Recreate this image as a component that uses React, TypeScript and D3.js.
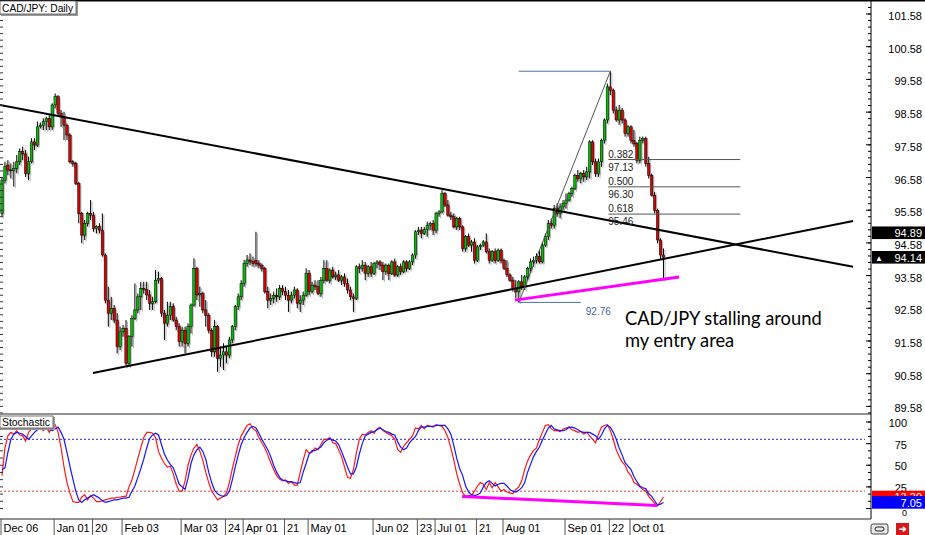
import React from "react";
import * as d3 from "d3";

// ---------- DATA ----------
// daily candles [open, high, low, close], bar 0 = Dec 06
const candles: [number, number, number, number][] = [
  [95.48, 96.60, 95.38, 96.50], [96.50, 97.06, 96.40, 96.91], [96.96, 97.11, 96.65, 96.81], [96.81, 97.01, 96.55, 96.79],
  [96.79, 97.06, 96.30, 96.86], [96.86, 97.27, 96.71, 97.06], [97.06, 97.47, 96.96, 97.37], [97.37, 97.52, 97.11, 97.30],
  [97.30, 97.42, 96.60, 96.71], [96.71, 97.22, 96.50, 97.06], [97.06, 97.78, 97.01, 97.67], [97.67, 97.78, 97.42, 97.57],
  [97.57, 98.29, 97.52, 98.13], [98.13, 98.26, 98.08, 98.18], [98.18, 98.39, 98.03, 98.29], [98.29, 98.44, 98.03, 98.39],
  [98.39, 98.49, 98.03, 98.13], [98.13, 98.85, 98.03, 98.80], [98.80, 99.15, 98.69, 99.05], [99.05, 99.10, 98.44, 98.54],
  [98.54, 98.64, 98.13, 98.44], [98.44, 98.59, 97.73, 98.18], [98.18, 98.23, 97.73, 97.88], [97.88, 97.93, 97.01, 97.06],
  [97.06, 97.11, 96.91, 97.01], [97.01, 97.06, 96.35, 96.40], [96.40, 96.45, 95.18, 95.48], [95.48, 95.53, 94.57, 94.82],
  [94.82, 95.28, 94.67, 95.18], [95.18, 95.53, 95.08, 95.48], [95.48, 95.89, 95.28, 95.43], [95.43, 95.53, 94.92, 95.02],
  [95.02, 95.12, 94.87, 95.08], [95.08, 95.18, 94.87, 94.97], [94.97, 95.48, 94.16, 94.21], [94.21, 94.26, 92.73, 92.83],
  [92.83, 93.24, 92.02, 92.43], [92.43, 92.93, 92.22, 92.58], [92.58, 92.68, 92.12, 92.22], [92.22, 92.43, 91.20, 91.41],
  [91.41, 92.02, 91.30, 91.86], [91.86, 92.07, 91.71, 91.97], [91.97, 92.22, 90.79, 90.90], [90.90, 91.76, 90.79, 91.71],
  [91.71, 92.37, 91.41, 92.27], [92.27, 93.34, 92.22, 92.53], [92.53, 93.03, 92.43, 92.93], [92.93, 93.39, 92.53, 93.19],
  [93.19, 93.39, 93.03, 93.16], [93.16, 93.39, 92.83, 92.99], [92.99, 93.14, 92.53, 92.73], [92.73, 92.93, 92.53, 92.78],
  [92.78, 93.75, 92.73, 93.44], [93.44, 93.70, 93.34, 93.49], [93.49, 93.54, 92.32, 92.43], [92.43, 92.53, 91.61, 92.12],
  [92.12, 92.78, 92.02, 92.37], [92.37, 92.78, 92.22, 92.63], [92.63, 92.73, 92.17, 92.22], [92.22, 92.32, 91.91, 92.02],
  [92.02, 92.12, 91.41, 91.56], [91.56, 92.02, 91.41, 91.91], [91.91, 92.02, 91.20, 91.51], [91.51, 92.12, 91.41, 92.02],
  [92.02, 92.73, 91.81, 92.68], [92.68, 94.11, 92.63, 93.80], [93.80, 93.85, 92.83, 92.99], [92.99, 93.24, 92.63, 93.03],
  [93.03, 93.09, 92.43, 92.53], [92.53, 92.83, 92.02, 92.37], [92.37, 92.43, 91.81, 91.91], [91.91, 91.97, 91.10, 91.25],
  [91.25, 92.22, 91.10, 92.02], [92.02, 92.07, 90.64, 91.05], [91.05, 91.41, 90.79, 91.15], [91.15, 91.51, 90.69, 91.25],
  [91.25, 91.41, 90.90, 91.15], [91.15, 91.71, 91.05, 91.61], [91.61, 92.07, 91.51, 92.02], [92.02, 92.68, 91.91, 92.63],
  [92.63, 93.03, 92.53, 92.93], [92.93, 93.44, 92.83, 93.34], [93.34, 94.06, 93.24, 93.95], [93.95, 94.21, 93.85, 94.06],
  [94.06, 94.26, 93.90, 94.01], [94.01, 94.16, 93.85, 93.95], [94.05, 94.92, 93.85, 93.95], [93.95, 94.05, 93.80, 93.90],
  [93.90, 93.95, 93.70, 93.80], [93.80, 93.85, 93.03, 93.09], [93.09, 93.24, 92.58, 92.83], [92.83, 93.03, 92.68, 92.88],
  [92.88, 93.09, 92.73, 92.98], [92.98, 93.19, 92.78, 92.93], [92.93, 93.29, 92.83, 93.19], [93.19, 93.29, 92.98, 93.09],
  [93.09, 93.24, 92.83, 92.98], [92.98, 93.14, 92.47, 92.83], [92.83, 93.09, 92.73, 92.98], [92.98, 93.24, 92.88, 93.14],
  [93.14, 93.19, 92.58, 92.73], [92.73, 92.98, 92.47, 92.83], [92.83, 93.09, 92.68, 92.98], [92.98, 93.80, 92.93, 93.65],
  [93.65, 93.75, 92.98, 93.09], [93.09, 93.39, 93.03, 93.29], [93.29, 93.44, 93.14, 93.24], [93.24, 93.44, 92.98, 93.03],
  [93.03, 93.54, 92.93, 93.44], [93.44, 94.05, 93.34, 93.80], [93.80, 94.05, 93.39, 93.44], [93.44, 93.80, 93.34, 93.75],
  [93.75, 93.85, 93.49, 93.54], [93.54, 93.70, 93.44, 93.60], [93.60, 93.75, 93.39, 93.44], [93.44, 93.60, 93.29, 93.54],
  [93.54, 93.65, 93.24, 93.34], [93.34, 93.49, 93.03, 93.14], [93.14, 93.24, 92.83, 92.93], [92.93, 93.03, 92.47, 92.88],
  [92.88, 93.90, 92.83, 93.85], [93.85, 93.95, 93.65, 93.80], [93.80, 94.05, 93.70, 93.90], [93.90, 94.00, 93.44, 93.65],
  [93.65, 93.90, 93.54, 93.85], [93.85, 94.00, 93.54, 93.65], [93.65, 94.00, 93.60, 93.95], [93.95, 94.05, 93.80, 94.00],
  [94.00, 94.05, 93.75, 93.90], [93.90, 94.00, 93.44, 93.70], [93.70, 93.95, 93.60, 93.90], [93.90, 93.95, 93.44, 93.65],
  [93.65, 94.05, 93.60, 94.00], [94.00, 94.10, 93.54, 93.60], [93.60, 93.90, 93.54, 93.85], [93.85, 93.95, 93.60, 93.70],
  [93.70, 94.05, 93.65, 94.00], [94.00, 94.05, 93.70, 93.80], [93.80, 94.05, 93.75, 94.00], [94.00, 94.26, 93.90, 94.21],
  [94.21, 94.97, 94.10, 94.92], [94.92, 95.07, 94.82, 94.97], [94.97, 95.07, 94.72, 94.87], [94.87, 95.07, 94.82, 94.99],
  [94.99, 95.23, 94.77, 95.12], [95.12, 95.23, 94.97, 95.17], [95.17, 95.28, 94.82, 94.97], [94.97, 95.53, 94.87, 95.48],
  [95.48, 95.58, 95.38, 95.53], [95.53, 96.19, 95.48, 96.09], [96.09, 96.14, 95.68, 95.74], [95.74, 95.89, 95.38, 95.43],
  [95.43, 95.53, 95.28, 95.38], [95.38, 95.48, 95.02, 95.07], [95.07, 95.38, 94.97, 95.33], [95.33, 95.38, 94.97, 95.07],
  [95.07, 95.12, 94.31, 94.41], [94.41, 94.82, 94.31, 94.77], [94.77, 94.87, 94.46, 94.51], [94.51, 94.67, 94.31, 94.61],
  [94.61, 94.72, 93.95, 94.05], [94.05, 94.51, 94.00, 94.46], [94.46, 94.56, 94.36, 94.51], [94.51, 94.67, 94.46, 94.61],
  [94.61, 94.87, 94.26, 94.31], [94.31, 94.41, 93.95, 94.05], [94.05, 94.36, 94.00, 94.31], [94.31, 94.41, 93.95, 94.05],
  [94.05, 94.41, 94.00, 94.36], [94.36, 94.41, 93.95, 94.05], [94.05, 94.10, 93.75, 93.80], [93.80, 94.05, 93.54, 93.60],
  [93.60, 93.65, 93.39, 93.44], [93.44, 93.54, 93.09, 93.19], [93.19, 93.44, 92.88, 93.09], [93.09, 93.44, 92.76, 93.39],
  [93.39, 93.60, 93.14, 93.24], [93.24, 93.60, 93.14, 93.54], [93.54, 93.85, 93.44, 93.80], [93.80, 94.10, 93.70, 94.00],
  [94.00, 94.16, 93.85, 94.05], [94.05, 94.26, 93.95, 94.16], [94.16, 94.36, 93.95, 94.00], [94.00, 94.61, 93.95, 94.51],
  [94.51, 94.87, 94.46, 94.77], [94.77, 95.28, 94.67, 95.17], [95.17, 95.33, 95.02, 95.12], [95.12, 95.74, 95.02, 95.63],
  [95.63, 95.79, 95.38, 95.48], [95.48, 95.79, 95.33, 95.68], [95.68, 95.89, 95.58, 95.79], [95.79, 96.09, 95.63, 95.89],
  [95.89, 96.14, 95.84, 96.09], [96.09, 96.30, 95.99, 96.25], [96.25, 96.70, 96.19, 96.65], [96.65, 96.81, 96.45, 96.55],
  [96.55, 96.75, 96.40, 96.70], [96.70, 96.81, 96.45, 96.60], [96.60, 96.91, 96.50, 96.75], [96.75, 97.72, 96.55, 97.67],
  [97.67, 97.72, 96.96, 97.06], [97.06, 97.16, 96.60, 96.70], [96.70, 97.16, 96.60, 97.06], [97.06, 97.77, 96.91, 97.72],
  [97.72, 98.39, 97.62, 98.34], [98.34, 99.45, 98.23, 99.35], [99.35, 99.83, 99.10, 99.25], [99.25, 99.30, 98.54, 98.64],
  [98.64, 98.75, 98.29, 98.34], [98.34, 98.80, 98.19, 98.64], [98.64, 98.70, 98.23, 98.34], [98.34, 98.39, 97.83, 97.93],
  [97.93, 98.18, 97.83, 98.13], [98.13, 98.18, 97.62, 97.72], [97.72, 98.03, 97.52, 97.62], [97.62, 97.67, 97.01, 97.11],
  [97.11, 97.83, 97.01, 97.72], [97.72, 97.83, 97.62, 97.77], [97.77, 97.83, 96.91, 97.01], [97.01, 97.21, 96.55, 96.65],
  [96.65, 96.70, 96.00, 96.04], [96.04, 96.14, 95.48, 95.58], [95.58, 95.63, 94.57, 94.67], [94.67, 94.72, 94.06, 94.21],
  [94.21, 94.41, 93.45, 94.14],
];

// Stochastic main line (blue), one value per bar
const stochMain = [
  45, 47, 65, 80, 86, 88, 87, 86, 83, 80, 84, 88, 91, 94, 93, 92, 91, 90, 92, 94,
  88, 80, 65, 49, 34, 20, 10, 7, 10, 12, 14, 16, 14, 12, 9, 7, 8, 9, 10, 10,
  11, 12, 12, 13, 20, 26, 36, 46, 57, 70, 81, 85, 87, 85, 74, 63, 56, 51, 47, 38,
  28, 25, 22, 35, 52, 62, 68, 71, 66, 57, 42, 30, 21, 17, 15, 14, 15, 20, 33, 48,
  62, 74, 82, 88, 93, 95, 93, 87, 80, 74, 68, 60, 50, 42, 36, 33, 32, 31, 31, 30,
  29, 30, 42, 52, 63, 67, 67, 69, 71, 76, 79, 81, 79, 78, 74, 66, 57, 48, 40, 40,
  48, 63, 75, 84, 86, 88, 89, 91, 93, 91, 89, 88, 86, 85, 77, 71, 68, 70, 76, 80,
  83, 90, 94, 94, 95, 95, 95, 96, 96, 96, 96, 92, 86, 73, 58, 46, 38, 26, 19, 16,
  15, 16, 18, 25, 30, 32, 29, 26, 28, 29, 29, 26, 22, 20, 19, 21, 24, 30, 42, 51,
  60, 66, 71, 79, 86, 93, 96, 92, 91, 90, 90, 91, 94, 94, 93, 91, 89, 88, 88, 88,
  86, 84, 80, 85, 92, 96, 94, 88, 80, 70, 62, 53, 49, 45, 37, 31, 26, 24, 23, 17,
  14, 9, 4, 5, 7.05,
];

// Stochastic signal line (red), one value per bar
const stochSignal = [
  38, 70, 84, 88, 86, 90, 85, 84, 78, 88, 92, 93, 95, 93, 90, 94, 88, 95, 97, 88,
  70, 48, 30, 18, 8, 7, 7, 13, 16, 10, 15, 12, 8, 8, 9, 10, 11, 12, 12, 13,
  13, 14, 14, 25, 33, 45, 58, 70, 82, 88, 88, 87, 82, 66, 58, 52, 48, 49, 40, 28,
  20, 20, 32, 50, 62, 70, 74, 66, 56, 42, 30, 20, 15, 10, 12, 14, 18, 30, 46, 60,
  74, 84, 90, 96, 98, 92, 90, 82, 76, 70, 62, 53, 45, 38, 34, 32, 33, 29, 31, 27,
  27, 42, 56, 68, 64, 65, 70, 68, 74, 80, 80, 82, 76, 75, 68, 60, 48, 36, 35, 45,
  64, 80, 86, 85, 88, 90, 87, 92, 94, 90, 88, 86, 84, 80, 68, 65, 72, 76, 80, 84,
  93, 92, 96, 92, 96, 95, 94, 97, 96, 95, 90, 82, 70, 56, 40, 28, 18, 14, 15, 15,
  20, 26, 30, 28, 22, 30, 24, 30, 25, 20, 22, 19, 18, 17, 22, 25, 32, 45, 55, 62,
  67, 70, 80, 88, 96, 97, 92, 90, 90, 89, 92, 93, 94, 91, 90, 88, 89, 86, 88, 84,
  80, 76, 86, 94, 96, 97, 90, 80, 68, 60, 54, 50, 42, 38, 30, 28, 25, 22, 20, 14,
  10, 6, 3, 8, 13.3,
];

const priceTicks = [101.58, 100.58, 99.58, 98.58, 97.58, 96.58, 95.58, 94.58, 93.58, 92.58, 91.58, 90.58, 89.58];
const stochTicks = [100, 75, 50, 25, 0];
const stochLevels = [80, 20];
const dateLabels = ["Dec 06", "Jan 01", "20", "Feb 03", "Mar 03", "24", "Apr 01", "21", "May 01", "Jun 02", "23", "Jul 01", "21", "Aug 01", "Sep 01", "22", "Oct 01"];
const dateBars = [0, 18, 31, 41, 61, 76, 82, 96, 104, 126, 141, 147, 161, 170, 191, 206, 213];

// Fibonacci retracement (bar index, price)
const fibLow: [number, number] = [175, 92.76];
const fibHigh: [number, number] = [206, 99.83];
const fibRatios = [0.382, 0.5, 0.618];
const fibPrices = [97.13, 96.30, 95.46];
const fibLevelsEnd = 250;
const fibLowLineEnd = 196;

// trend lines [bar index, price]
const resistanceLine: [number, number][] = [[-0.7, 98.80], [288.2, 93.85]];
const supportLine: [number, number][] = [[30.8, 90.60], [288.2, 95.25]];
const priceDivLine: [number, number][] = [[173.7, 92.83], [229.3, 93.54]];
const stochDivLine: [number, number][] = [[155.8, 13.9], [221.8, 3.5]];
const markerPrices = [94.89, 94.14];
const noteLines = ["CAD/JPY stalling around", "my entry area"];

// ---------- LAYOUT ----------
const W = 925;
const H = 535;
const AXIS_X = 871;
const MAIN_BOTTOM = 414;
const STOCH_BOTTOM = 519;

const x = d3.scaleLinear().domain([0, 213]).range([2, 2 + 213 * 2.953]);
const y = d3.scaleLinear().domain([89.58, 101.58]).range([406.4, 14]);
const sy = d3.scaleLinear().domain([0, 100]).range([508.5, 422]);

const FONT = "'Liberation Sans', Arial, sans-serif";

export default function App() {
  const priceLine = d3.line<[number, number]>().x((d) => x(d[0])).y((d) => y(d[1]));
  const stochLine = d3.line<number>().x((_, i) => x(i)).y((d) => sy(d));
  const stochSeg = d3.line<[number, number]>().x((d) => x(d[0])).y((d) => sy(d[1]));

  const minorPrice = d3.range(0, 64).map((k) => 89.38 + k * 0.2).filter((p) => y(p) > 1 && y(p) < MAIN_BOTTOM - 1);
  const minorStoch = d3.range(0, 13).map((k) => k * (25 / 3));

  const fibRange = fibHigh[1] - fibLow[1];
  const lastMain = stochMain[stochMain.length - 1];
  const lastSig = stochSignal[stochSignal.length - 1];
  const mainBoxTop = sy(lastMain) - 6.3;
  const sigBoxTop = sy(lastSig) - 6.3;

  return (
    <svg width={W} height={H} style={{ position: "absolute", left: 0, top: 0, background: "#fff" }} fontFamily={FONT}>
      <defs>
        <clipPath id="mainClip"><rect x={0} y={1} width={AXIS_X} height={MAIN_BOTTOM - 1} /></clipPath>
        <clipPath id="stochClip"><rect x={0} y={MAIN_BOTTOM + 1} width={AXIS_X} height={STOCH_BOTTOM - MAIN_BOTTOM - 2} /></clipPath>
        <clipPath id="sigClip"><rect x={AXIS_X} y={sigBoxTop} width={W - AXIS_X} height={Math.max(0, mainBoxTop - sigBoxTop)} /></clipPath>
      </defs>
      <rect width={W} height={H} fill="#fff" />

      {/* ---------- main panel ---------- */}
      <g clipPath="url(#mainClip)">
        {/* candle shadows */}
        {candles.map(([o, h, l, c], i) => {
          const cx = x(i);
          const yt = y(Math.max(o, c));
          const yb = y(Math.min(o, c));
          return (
            <g key={"s" + i} fill="#b4b4b4" stroke="none">
              <rect x={cx + 1} y={y(h) + 1.5} width={1} height={y(l) - y(h)} />
              <rect x={cx} y={yt + 1.5} width={2.6} height={Math.max(1, yb - yt)} />
            </g>
          );
        })}
        {/* candles */}
        {candles.map(([o, h, l, c], i) => {
          const cx = x(i);
          const up = c >= o;
          const yt = y(Math.max(o, c));
          const yb = y(Math.min(o, c));
          return (
            <g key={"c" + i}>
              <line x1={cx} x2={cx} y1={y(h)} y2={y(l)} stroke="#000" strokeWidth={1} />
              <rect x={cx - 1.2} y={yt} width={2.4} height={Math.max(0.8, yb - yt)} fill={up ? "#00c000" : "#e00000"} stroke="#000" strokeWidth={0.5} />
            </g>
          );
        })}

        {/* trend lines */}
        <path d={priceLine(resistanceLine) ?? ""} stroke="#000" strokeWidth={2} fill="none" />
        <path d={priceLine(supportLine) ?? ""} stroke="#000" strokeWidth={2} fill="none" />

        {/* fibonacci */}
        <path d={priceLine([fibLow, fibHigh]) ?? ""} stroke="#555" strokeWidth={1} fill="none" />
        <line x1={x(fibLow[0])} x2={x(fibHigh[0])} y1={y(fibHigh[1])} y2={y(fibHigh[1])} stroke="#4a74b0" strokeWidth={1} />
        <line x1={x(fibLow[0])} x2={x(fibLowLineEnd)} y1={y(fibLow[1])} y2={y(fibLow[1])} stroke="#4a74b0" strokeWidth={1} />
        <text x={x(fibLowLineEnd) + 5} y={y(fibLow[1]) + 13} fontSize={10} fill="#3f64a8">{fibLow[1].toFixed(2)}</text>
        {fibRatios.map((r, k) => {
          const py = y(fibHigh[1] - r * fibRange);
          const lx = x(fibHigh[0]) - 2;
          return (
            <g key={"f" + k}>
              <line x1={lx} x2={x(fibLevelsEnd)} y1={py} y2={py} stroke="#555" strokeWidth={1} />
              <text x={lx} y={py - 2} fontSize={10} fill="#222">{r.toFixed(3)}</text>
              <text x={lx} y={py + 11} fontSize={10} fill="#222">{fibPrices[k].toFixed(2)}</text>
            </g>
          );
        })}

        {/* divergence line on price */}
        <path d={priceLine(priceDivLine) ?? ""} stroke="#ff00ff" strokeWidth={3} fill="none" />

        {/* note */}
        {noteLines.map((t, k) => (
          <text key={"n" + k} x={625} y={325 + k * 22} fontSize={18.3} fontFamily="Lato, 'Open Sans', sans-serif" fill="#000">{t}</text>
        ))}
      </g>

      {/* ---------- stochastic panel ---------- */}
      <g clipPath="url(#stochClip)">
        <line x1={0} x2={AXIS_X - 6} y1={sy(stochLevels[0])} y2={sy(stochLevels[0])} stroke="#2a2ac8" strokeWidth={1} strokeDasharray="2,2" />
        <line x1={0} x2={AXIS_X - 6} y1={sy(stochLevels[1])} y2={sy(stochLevels[1])} stroke="#e04040" strokeWidth={1} strokeDasharray="2,2" />
        <path d={stochLine(stochSignal) ?? ""} stroke="#ff1a1a" strokeWidth={1.2} fill="none" />
        <path d={stochLine(stochMain) ?? ""} stroke="#1515ff" strokeWidth={1.2} fill="none" />
        <path d={stochSeg(stochDivLine) ?? ""} stroke="#ff00ff" strokeWidth={3} fill="none" />
      </g>

      {/* left edge ticks */}
      {minorPrice.map((p, k) => (
        <line key={"lt" + k} x1={0} x2={3} y1={y(p)} y2={y(p)} stroke="#333" strokeWidth={1} />
      ))}
      {minorStoch.map((v, k) => (
        <line key={"lst" + k} x1={0} x2={3} y1={sy(v)} y2={sy(v)} stroke="#333" strokeWidth={1} />
      ))}

      {/* frames */}
      <line x1={0} x2={W} y1={0.75} y2={0.75} stroke="#000" strokeWidth={1.5} />
      <line x1={0} x2={AXIS_X} y1={MAIN_BOTTOM} y2={MAIN_BOTTOM} stroke="#6e6e6e" strokeWidth={1.5} />
      <line x1={0} x2={AXIS_X} y1={STOCH_BOTTOM} y2={STOCH_BOTTOM} stroke="#6e6e6e" strokeWidth={1.5} />
      <line x1={AXIS_X} x2={AXIS_X} y1={0} y2={STOCH_BOTTOM} stroke="#000" strokeWidth={1} />

      {/* title boxes */}
      <rect x={1} y={2} width={77} height={14} fill="#9a9a9a" />
      <rect x={0} y={1} width={76} height={13} fill="#fff" stroke="#505050" strokeWidth={0.8} />
      <text x={2} y={11.5} fontSize={11} fill="#000" textLength={71} lengthAdjust="spacingAndGlyphs">CAD/JPY: Daily</text>
      <rect x={1} y={417} width={54} height={13} fill="#9a9a9a" />
      <rect x={0} y={416} width={53} height={12} fill="#fff" stroke="#505050" strokeWidth={0.8} />
      <text x={2} y={425.5} fontSize={11} fill="#000" textLength={48} lengthAdjust="spacingAndGlyphs">Stochastic</text>

      {/* price axis */}
      {minorPrice.map((p, k) => (
        <line key={"rt" + k} x1={AXIS_X - 3} x2={AXIS_X} y1={y(p)} y2={y(p)} stroke="#000" strokeWidth={1} />
      ))}
      {priceTicks.map((p) => (
        <g key={"pt" + p}>
          <line x1={AXIS_X - 5} x2={AXIS_X} y1={y(p)} y2={y(p)} stroke="#000" strokeWidth={1} />
          <text x={922} y={y(p) + 6} fontSize={11} textAnchor="end" fill="#000">{p.toFixed(2)}</text>
        </g>
      ))}
      {markerPrices.map((p, k) => (
        <g key={"mk" + k}>
          <rect x={AXIS_X + 1} y={y(p) - 6.3} width={W - AXIS_X - 1} height={12.6} fill="#000" />
          {k === 1 && <text x={875} y={y(p) + 3.5} fontSize={8} fill="#fff">▲</text>}
          <text x={922} y={y(p) + 4.5} fontSize={11} textAnchor="end" fill="#fff">{p.toFixed(2)}</text>
        </g>
      ))}

      {/* stochastic axis */}
      {minorStoch.map((v, k) => (
        <line key={"st" + k} x1={AXIS_X - 3} x2={AXIS_X} y1={sy(v)} y2={sy(v)} stroke="#000" strokeWidth={1} />
      ))}
      {stochTicks.map((v) => (
        <g key={"sl" + v}>
          <line x1={AXIS_X - 5} x2={AXIS_X} y1={sy(v)} y2={sy(v)} stroke="#000" strokeWidth={1} />
          {v > 0 && <text x={907} y={sy(v) + 5} fontSize={11} textAnchor="end" fill="#000">{v}</text>}
        </g>
      ))}
      <rect x={AXIS_X + 1} y={sigBoxTop} width={W - AXIS_X - 1} height={12.6} fill="#ff0000" />
      <g clipPath="url(#sigClip)">
        <text x={922} y={sy(lastSig) + 4.5} fontSize={11} textAnchor="end" fill="#fff">{lastSig.toFixed(2)}</text>
      </g>
      <rect x={AXIS_X + 1} y={mainBoxTop} width={W - AXIS_X - 1} height={12.6} fill="#0000ff" />
      <text x={922} y={sy(lastMain) + 4.5} fontSize={11} textAnchor="end" fill="#fff">{lastMain.toFixed(2)}</text>
      <text x={907} y={sy(0) + 7} fontSize={9} textAnchor="end" fill="#000">0</text>

      {/* date axis */}
      {dateBars.map((b, k) => (
        <g key={"d" + k}>
          <line x1={x(b) - 1} x2={x(b) - 1} y1={STOCH_BOTTOM} y2={H} stroke="#555" strokeWidth={1} />
          <text x={x(b) + 1.5} y={532} fontSize={11} fill="#000">{dateLabels[k]}</text>
        </g>
      ))}

      {/* bottom-right icons */}
      <rect x={871} y={524} width={17} height={10} rx={2} fill="#e8e8e8" stroke="#444" strokeWidth={1} />
      <rect x={875} y={527} width={9} height={4} rx={2} fill="none" stroke="#222" strokeWidth={1} />
      <rect x={896} y={523} width={13} height={12} fill="#d81818" />
      <text x={902.5} y={532} fontSize={9} textAnchor="middle" fill="#fff" fontWeight="bold">➔</text>
    </svg>
  );
}
